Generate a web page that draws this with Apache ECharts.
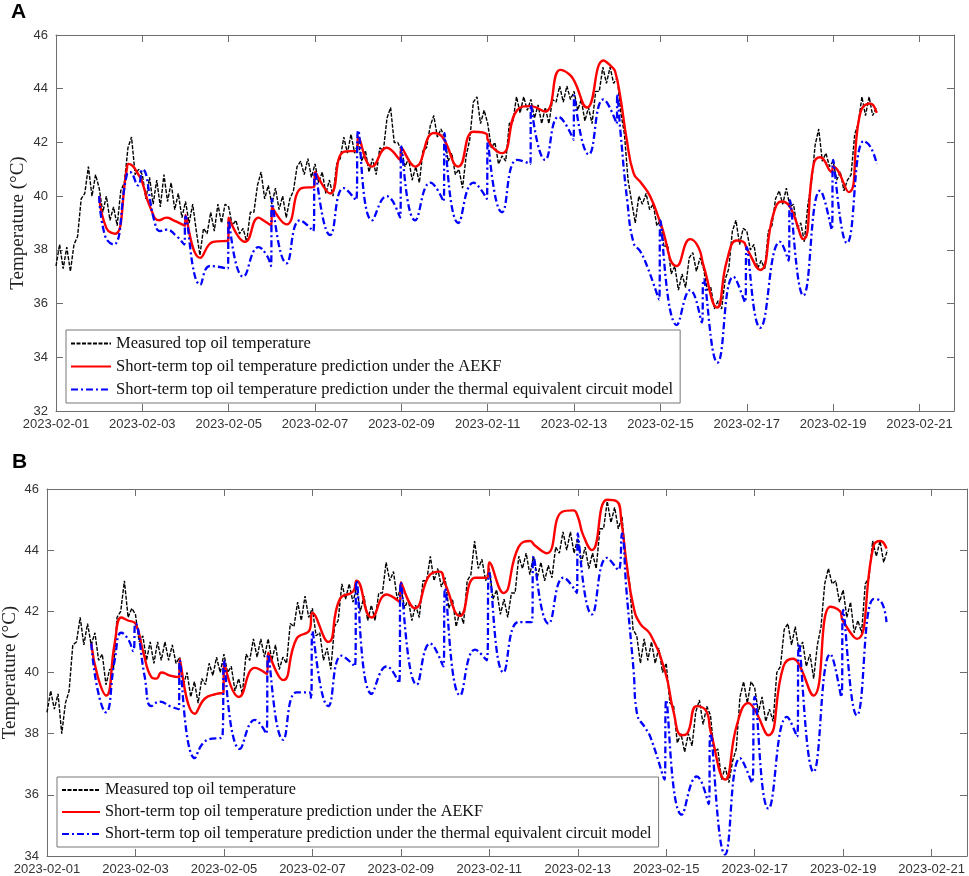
<!DOCTYPE html>
<html>
<head>
<meta charset="utf-8">
<title>Top oil temperature prediction</title>
<script src="https://cdn.jsdelivr.net/npm/echarts@6/dist/echarts.min.js"></script>
<style>
html, body { margin: 0; padding: 0; background: #fff; }
#main { width: 969px; height: 876px; }
</style>
</head>
<body>
<div id="main"></div>
<script>
// x values are days since 2023-02-01 00:00
var seriesNames = [
    'Measured top oil temperature',
    'Short-term top oil temperature prediction under the AEKF',
    'Short-term top oil temperature prediction under the thermal equivalent circuit model'
];
var tickDays = [0, 2, 4, 6, 8, 10, 12, 14, 16, 18, 20];

// measured, one reading every 2 hours from 02-01 00:00 to 02-20 00:00
var measuredA = [
    37.4, 38.2, 37.3, 38.1, 37.2, 38.2, 38.5, 39.9, 40.1, 41.1, 40.0, 40.8,
    40.3, 39.4, 40.0, 39.1, 39.6, 38.9, 40.2, 40.5, 41.8, 42.2, 40.8, 41.0,
    40.8, 39.9, 40.7, 39.7, 40.6, 39.6, 40.8, 39.8, 40.5, 39.5, 40.1, 39.2,
    39.8, 39.0, 39.7, 38.7, 37.8, 38.8, 38.6, 39.4, 38.7, 39.7, 39.0, 39.7,
    39.6, 38.9, 39.1, 38.6, 38.8, 38.3, 39.4, 39.4, 40.4, 40.9, 39.9, 40.4,
    39.7, 40.3, 39.5, 40.0, 39.2, 39.9, 40.2, 41.1, 41.3, 40.8, 41.4, 40.7,
    41.2, 40.5, 40.9, 40.1, 40.6, 40.0, 41.2, 41.4, 42.2, 41.6, 42.3, 41.6,
    42.0, 41.3, 41.7, 40.9, 41.4, 40.8, 41.8, 41.7, 42.9, 43.3, 42.0, 42.0,
    41.7, 41.1, 41.4, 40.6, 41.1, 40.5, 41.7, 41.8, 42.6, 43.0, 42.2, 42.5,
    42.2, 41.3, 41.6, 40.8, 41.0, 40.3, 41.5, 42.1, 43.5, 43.7, 42.7, 43.2,
    42.7, 41.8, 42.0, 41.2, 41.5, 41.3, 42.7, 42.8, 43.7, 43.1, 43.7, 43.2,
    43.6, 42.9, 43.4, 42.7, 43.3, 42.7, 43.6, 43.5, 44.1, 43.5, 44.1, 43.6,
    43.9, 43.2, 43.6, 42.8, 43.3, 42.7, 43.9, 43.9, 44.8, 44.2, 44.8, 44.2,
    44.4, 43.1, 42.3, 40.6, 39.8, 39.0, 40.0, 39.7, 40.1, 39.5, 39.7, 38.9,
    39.1, 38.1, 38.2, 37.1, 37.4, 36.5, 37.1, 36.6, 37.7, 37.9, 37.2, 37.7,
    37.3, 36.5, 36.6, 35.8, 36.1, 35.8, 36.9, 37.3, 38.7, 39.1, 38.2, 38.8,
    38.7, 38.0, 38.2, 37.3, 37.6, 37.3, 38.7, 38.9, 39.9, 40.2, 39.7, 40.3,
    39.6, 39.7, 38.8, 39.0, 38.3, 39.7, 40.5, 41.9, 42.5, 41.3, 41.6, 41.1,
    41.3, 40.6, 40.9, 40.2, 40.6, 40.8, 42.3, 42.7, 43.7, 43.0, 43.7, 43.0,
    43.3
];
var aekfDaysA = [1.00, 1.17, 1.37, 1.64, 1.68, 1.95, 2.02, 2.18, 2.39, 2.56, 2.72, 2.99, 3.00, 3.34, 3.64, 3.99,
    4.00, 4.38, 4.69, 4.80, 4.99, 5.00, 5.34, 5.69, 5.98, 6.00, 6.35, 6.66, 6.97, 7.00, 7.32, 7.66, 7.97,
    8.00, 8.32, 8.75, 8.95, 9.32, 9.67, 9.98, 10.00, 10.33, 10.68, 10.99, 11.33, 11.68, 11.88, 12.00,
    12.30, 12.68, 12.88, 12.95, 13.07, 13.22, 13.38, 13.55, 13.76, 14.00, 14.38, 14.69, 14.88, 15.00,
    15.31, 15.54, 15.77, 15.92, 16.00, 16.31, 16.62, 16.81, 17.00, 17.31, 17.55, 17.70, 17.97, 18.00,
    18.36, 18.63, 18.86, 19.01];
var aekfTempA = [40.0, 38.8, 38.6, 41.0, 41.2, 40.7, 40.4, 39.6, 39.1, 39.2, 39.1, 38.9, 39.3, 37.7, 38.3, 38.35,
    39.2, 38.3, 39.2, 39.1, 38.9, 39.6, 38.95, 40.3, 40.35, 40.9, 40.1, 41.65, 41.7, 42.2, 41.1, 41.8, 41.35,
    41.8, 41.1, 42.35, 42.2, 41.1, 42.4, 42.3, 42.1, 41.6, 43.2, 43.35, 43.15, 44.7, 44.55, 44.3,
    43.3, 45.05, 44.8, 44.65, 43.7, 42.1, 40.85, 40.5, 40.0, 39.0, 37.4, 38.4, 38.1, 37.4,
    35.85, 37.6, 38.35, 38.3, 38.05, 37.25, 39.35, 39.8, 39.6, 38.4, 41.2, 41.45, 40.9, 41.1,
    40.15, 43.1, 43.45, 43.1];
var thermalDaysA = [1.00, 1.14, 1.33, 1.64, 1.71, 1.90, 2.00, 2.29, 2.41, 2.56, 2.80, 2.97, 3.00, 3.34, 3.57, 3.98,
    4.00, 4.34, 4.69, 4.88, 4.98, 5.00, 5.34, 5.65, 5.96, 6.00, 6.35, 6.66, 6.95, 7.00, 7.32, 7.66, 7.97,
    8.00, 8.32, 8.67, 8.98, 9.00, 9.32, 9.67, 9.98, 10.00, 10.33, 10.68, 10.99, 11.00, 11.33, 11.64, 11.99,
    12.00, 12.34, 12.68, 12.99, 13.00, 13.08, 13.23, 13.38, 13.53, 13.69, 13.97, 14.00, 14.38, 14.69, 14.96,
    15.00, 15.32, 15.69, 15.96, 16.00, 16.31, 16.77, 16.97, 17.00, 17.31, 17.70, 17.97, 18.00, 18.32,
    18.71, 18.86, 19.01];
var thermalTempA = [40.0, 38.5, 38.2, 40.8, 40.9, 40.4, 41.0, 39.0, 38.7, 38.75, 38.5, 38.2, 39.25, 36.7, 37.4, 37.3,
    39.1, 37.0, 38.1, 37.8, 37.4, 39.9, 37.5, 39.1, 38.7, 40.9, 38.55, 40.3, 39.85, 42.45, 39.1, 40.0, 39.2,
    41.85, 39.1, 40.5, 39.8, 42.35, 39.0, 40.5, 39.9, 42.0, 39.4, 41.35, 41.2, 43.4, 41.35, 42.95, 42.1,
    43.75, 41.55, 43.6, 42.7, 43.8, 42.3, 39.85, 38.25, 37.95, 37.4, 36.15, 39.1, 35.2, 36.5, 35.3,
    36.9, 33.8, 37.0, 36.05, 38.1, 35.1, 38.3, 37.6, 39.85, 36.3, 40.2, 38.75, 41.35, 38.25,
    42.05, 41.85, 41.2];

var measuredB = [
    38.7, 39.4, 38.8, 39.3, 38.0, 39.0, 39.4, 40.9, 41.0, 41.8, 40.9, 41.6,
    40.9, 41.3, 40.4, 40.6, 39.6, 40.1, 40.1, 41.8, 42.0, 43.0, 41.8, 42.1,
    41.9, 41.0, 41.2, 40.4, 41.0, 40.3, 41.0, 40.4, 41.0, 40.4, 40.9, 40.3,
    40.5, 39.6, 40.0, 39.2, 39.7, 39.0, 39.8, 39.6, 40.3, 39.9, 40.5, 40.0,
    40.6, 40.0, 40.2, 39.4, 39.8, 39.3, 40.6, 40.4, 41.1, 40.5, 41.1, 40.5,
    41.1, 40.4, 40.9, 40.1, 40.5, 40.3, 41.6, 41.5, 42.3, 41.7, 42.5, 41.8,
    42.1, 41.2, 41.3, 40.4, 40.8, 40.1, 41.5, 41.7, 42.9, 42.4, 42.9, 42.3,
    42.8, 42.0, 42.5, 41.7, 42.2, 41.7, 42.6, 42.6, 43.6, 43.0, 43.3, 42.4,
    42.8, 42.1, 42.4, 41.7, 42.2, 41.8, 43.0, 43.0, 43.8, 43.0, 43.4, 42.8,
    43.1, 42.1, 42.4, 41.5, 42.0, 41.6, 43.0, 43.2, 44.3, 43.4, 43.7, 43.0,
    43.4, 42.4, 42.7, 41.9, 42.4, 41.8, 42.6, 42.6, 43.8, 43.4, 43.9, 43.2,
    43.8, 43.1, 43.6, 43.0, 43.5, 43.1, 44.1, 43.9, 44.6, 44.0, 44.6, 43.9,
    44.4, 43.6, 44.1, 43.4, 43.9, 43.4, 44.7, 44.7, 45.6, 44.9, 45.4, 44.7,
    45.1, 43.7, 43.0, 41.4, 41.2, 40.3, 41.1, 40.4, 41.0, 40.3, 40.8, 40.0,
    40.3, 39.0, 38.9, 37.7, 38.0, 37.4, 38.0, 37.6, 38.7, 39.1, 38.3, 38.9,
    38.6, 37.4, 37.5, 36.5, 36.9, 36.4, 37.1, 37.5, 39.2, 39.7, 39.0, 39.7,
    39.5, 38.7, 39.2, 38.4, 38.8, 38.4, 40.0, 40.2, 41.4, 41.6, 40.9, 41.5,
    40.7, 41.0, 40.2, 40.6, 39.8, 40.9, 41.5, 42.9, 43.4, 42.9, 43.0, 42.3,
    42.7, 41.8, 42.3, 41.3, 41.7, 41.3, 42.9, 43.1, 44.3, 43.8, 44.3, 43.6,
    44.0
];
var aekfDaysB = [1.00, 1.15, 1.34, 1.53, 1.68, 1.83, 2.00, 2.17, 2.36, 2.47, 2.59, 2.78, 2.99, 3.00, 3.34, 3.57,
    3.83, 3.99, 4.00, 4.34, 4.70, 4.98, 5.00, 5.34, 5.64, 5.94, 6.00, 6.36, 6.62, 6.92, 7.00, 7.34, 7.68,
    7.98, 8.00, 8.32, 8.66, 8.88, 9.00, 9.34, 9.68, 9.96, 10.00, 10.32, 10.66, 10.92, 11.03, 11.30, 11.64,
    11.90, 12.00, 12.12, 12.32, 12.66, 12.88, 12.99, 13.10, 13.26, 13.41, 13.64, 13.98, 14.16, 14.35, 14.47,
    14.69, 14.92, 15.00, 15.33, 15.60, 15.86, 16.01, 16.31, 16.65, 16.86, 16.99, 17.33, 17.71, 17.93,
    17.99, 18.31, 18.69, 18.84, 18.98];
var aekfTempB = [40.95, 39.85, 39.25, 40.95, 41.8, 41.7, 41.6, 40.7, 39.85, 39.8, 40.0, 39.9, 39.85, 40.45, 38.65, 39.15,
    39.3, 39.35, 40.35, 39.2, 40.15, 39.95, 40.65, 39.75, 41.1, 41.4, 41.95, 41.0, 42.4, 42.65, 43.0, 41.8, 42.55,
    42.3, 42.95, 42.1, 43.2, 43.3, 42.9, 41.85, 43.1, 43.1, 43.6, 42.6, 44.1, 44.3, 44.15, 43.9, 45.25,
    45.3, 45.1, 44.5, 44.0, 45.65, 45.6, 44.9, 43.6, 42.15, 41.6, 41.25, 40.0, 38.75, 37.95, 38.0,
    38.9, 38.7, 38.1, 36.5, 38.3, 39.0, 38.75, 37.95, 40.2, 40.45, 40.3, 39.25, 42.15, 42.0,
    41.7, 41.1, 44.15, 44.3, 44.05];
var thermalDaysB = [1.00, 1.15, 1.33, 1.53, 1.68, 1.83, 1.95, 2.00, 2.21, 2.36, 2.55, 2.78, 2.98, 3.00, 3.34, 3.57,
    3.97, 4.00, 4.36, 4.70, 4.96, 5.00, 5.34, 5.64, 5.94, 5.97, 6.00, 6.36, 6.66, 6.96, 7.00, 7.34, 7.68,
    7.96, 8.00, 8.36, 8.66, 8.96, 9.00, 9.34, 9.68, 9.94, 10.00, 10.32, 10.66, 10.96, 11.00, 11.34, 11.68,
    11.98, 12.00, 12.32, 12.66, 12.92, 13.00, 13.10, 13.26, 13.34, 13.52, 13.64, 13.96, 14.00, 14.35, 14.69,
    14.96, 15.00, 15.33, 15.67, 15.94, 16.00, 16.31, 16.73, 16.96, 17.00, 17.33, 17.71, 17.96, 18.00,
    18.31, 18.69, 18.84, 18.98];
var thermalTempB = [40.95, 39.4, 38.7, 40.4, 41.3, 41.1, 40.7, 41.6, 39.85, 38.9, 39.05, 38.9, 38.8, 40.4, 37.2, 37.75,
    37.95, 40.4, 37.5, 38.45, 38.0, 40.6, 37.8, 39.35, 39.35, 39.15, 41.35, 38.9, 40.55, 40.2, 43.0, 39.3, 40.2,
    39.65, 42.95, 39.6, 40.95, 40.2, 42.75, 39.25, 40.75, 40.4, 43.25, 40.0, 41.65, 41.65, 43.8, 41.6, 43.1,
    42.6, 44.55, 41.9, 43.75, 43.35, 44.55, 42.7, 40.1, 38.65, 38.2, 37.9, 36.5, 39.1, 35.35, 36.6,
    35.7, 38.0, 34.05, 37.2, 36.4, 39.2, 35.55, 38.55, 37.9, 40.95, 36.75, 40.6, 39.2, 42.05,
    38.6, 42.4, 42.35, 41.65];

function pairs(days, temps) {
    return days.map(function (d, i) { return [d, temps[i]]; });
}
function everyTwoHours(temps) {
    return temps.map(function (t, i) { return [i / 12, t]; });
}

var axisColor = '#6e6e6e';
var tickFont = 'Liberation Sans';

function dateLabel(v) {
    if (tickDays.indexOf(v) < 0) return '';
    var day = v + 1;
    return '2023-02-' + (day < 10 ? '0' + day : day);
}

function xAxes(gridIndex) {
    var base = {
        type: 'value',
        gridIndex: gridIndex,
        min: 0,
        max: 20.8,
        interval: 2,
        axisLine: { show: true, onZero: false, lineStyle: { color: axisColor } },
        axisTick: { show: true, inside: true, length: 7, lineStyle: { color: axisColor } },
        splitLine: { show: false }
    };
    var bottom = Object.assign({}, base, {
        position: 'bottom',
        axisLabel: { formatter: dateLabel, fontFamily: tickFont, fontSize: 13, color: '#333', margin: 7, showMaxLabel: false }
    });
    var top = Object.assign({}, base, {
        position: 'top',
        axisLabel: { show: false }
    });
    return [bottom, top];
}

function yAxes(gridIndex, min, gap) {
    var base = {
        type: 'value',
        gridIndex: gridIndex,
        min: min,
        max: 46,
        interval: 2,
        axisLine: { show: true, onZero: false, lineStyle: { color: axisColor } },
        axisTick: { show: true, inside: true, length: 7, lineStyle: { color: axisColor } },
        splitLine: { show: false }
    };
    var left = Object.assign({}, base, {
        position: 'left',
        name: 'Temperature (°C)',
        nameLocation: 'middle',
        nameGap: gap,
        nameMoveOverlap: false,
        nameTextStyle: { fontFamily: 'Liberation Serif', fontSize: 19, color: '#222' },
        axisLabel: { fontFamily: tickFont, fontSize: 13, color: '#333', margin: 8 }
    });
    var right = Object.assign({}, base, {
        position: 'right',
        axisLabel: { show: false }
    });
    return [left, right];
}

function panelSeries(axisIndex, measured, aekfDays, aekfTemp, thermalDays, thermalTemp) {
    return [
        {
            name: seriesNames[0],
            type: 'line',
            xAxisIndex: axisIndex,
            yAxisIndex: axisIndex,
            symbol: 'none',
            data: everyTwoHours(measured),
            lineStyle: { color: '#000', width: 1.4, type: [4, 1.5] },
            itemStyle: { color: '#000' },
            z: 2
        },
        {
            name: seriesNames[1],
            type: 'line',
            xAxisIndex: axisIndex,
            yAxisIndex: axisIndex,
            symbol: 'none',
            smooth: 0.5,
            data: pairs(aekfDays, aekfTemp),
            lineStyle: { color: '#ff0000', width: 2.4 },
            itemStyle: { color: '#ff0000' },
            z: 3
        },
        {
            name: seriesNames[2],
            type: 'line',
            xAxisIndex: axisIndex,
            yAxisIndex: axisIndex,
            symbol: 'none',
            smooth: 0.5,
            data: pairs(thermalDays, thermalTemp),
            lineStyle: { color: '#0000ff', width: 2.3, type: [7, 3, 2, 3] },
            itemStyle: { color: '#0000ff' },
            z: 4
        }
    ];
}

function legendAt(left, top, fontSize, iconWidth) {
    return {
        left: left,
        top: top,
        orient: 'vertical',
        data: seriesNames,
        itemWidth: iconWidth,
        itemHeight: 14,
        itemGap: 6,
        padding: [5, 7, 5, 4],
        backgroundColor: '#fff',
        borderColor: '#777',
        borderWidth: 1,
        selectedMode: false,
        itemStyle: { opacity: 0 },
        lineStyle: { width: 2 },
        textStyle: { fontFamily: 'Liberation Serif', fontSize: fontSize, color: '#111' }
    };
}

var chart = echarts.init(document.getElementById('main'));

var option = {
    animation: false,
    backgroundColor: '#fff',
    graphic: [
        { type: 'text', left: 11, top: 2, style: { text: 'A', font: 'bold 21px "Liberation Sans"', fill: '#000' } },
        { type: 'text', left: 12, top: 452, style: { text: 'B', font: 'bold 21px "Liberation Sans"', fill: '#000' } }
    ],
    grid: [
        { left: 56, top: 35, width: 898, height: 376, outerBoundsMode: 'none', containLabel: false },
        { left: 47, top: 489, width: 920, height: 367, outerBoundsMode: 'none', containLabel: false }
    ],
    legend: [legendAt(66, 330, 16.5, 40), legendAt(57, 777, 16.2, 38)],
    xAxis: xAxes(0).concat(xAxes(1)),
    yAxis: yAxes(0, 32, 28).concat(yAxes(1, 34, 27)),
    series: panelSeries(0, measuredA, aekfDaysA, aekfTempA, thermalDaysA, thermalTempA)
        .concat(panelSeries(2, measuredB, aekfDaysB, aekfTempB, thermalDaysB, thermalTempB))
};

chart.setOption(option);
</script>
</body>
</html>
